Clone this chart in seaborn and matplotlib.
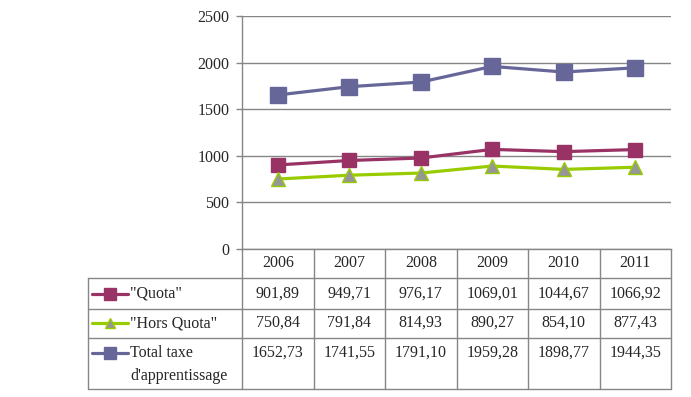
import matplotlib
matplotlib.use('Agg')
import matplotlib.pyplot as plt
import numpy as np
import pandas as pd
import seaborn as sns
from matplotlib.lines import Line2D

years = ['2006', '2007', '2008', '2009', '2010', '2011']
quota = [901.89, 949.71, 976.17, 1069.01, 1044.67, 1066.92]
hors_quota = [750.84, 791.84, 814.93, 890.27, 854.10, 877.43]
total = [1652.73, 1741.55, 1791.10, 1959.28, 1898.77, 1944.35]
series_names = ['"Quota"', '"Hors Quota"', 'Total taxe\nd\'apprentissage']

sns.set_theme(style='white')
plt.rcParams['font.family'] = ['Liberation Serif', 'DejaVu Serif']
plt.rcParams['font.size'] = 11.5

W, H = 691, 397
fig = plt.figure(figsize=(W / 100, H / 100), dpi=100)

# pixel box of the plot area
x0, x1, ytop, ybot = 242, 671, 16, 249
ax = fig.add_axes([x0 / W, 1 - ybot / H, (x1 - x0) / W, (ybot - ytop) / H])

df = pd.DataFrame({
    'pos': np.tile(np.arange(len(years)), 3),
    'value': quota + hors_quota + total,
    'series': np.repeat(series_names, len(years)),
})

styles = {
    series_names[0]: dict(color='#993366', marker='s', markersize=10, markerfacecolor='#993366',
                          markeredgecolor='#993366'),
    series_names[1]: dict(color='#99CC00', marker='^', markersize=9.5, markerfacecolor='#969696',
                          markeredgecolor='#99CC00'),
    series_names[2]: dict(color='#666699', marker='s', markersize=11.5, markerfacecolor='#666699',
                          markeredgecolor='#666699'),
}

for name in series_names:
    st = styles[name]
    sns.lineplot(data=df[df.series == name], x='pos', y='value', ax=ax,
                 color=st['color'], linewidth=2.3, marker=st['marker'],
                 markersize=st['markersize'], markerfacecolor=st['markerfacecolor'],
                 markeredgecolor=st['markeredgecolor'], markeredgewidth=1, zorder=3,
                 legend=False)

grid_c = '#868686'
ax.set_xlim(-0.5, len(years) - 0.5)
ax.set_ylim(0, 2500)
ax.set_yticks(np.arange(0, 2501, 500))
ax.set_xticks([])
ax.set_xlabel('')
ax.set_ylabel('')
ax.yaxis.grid(True, color=grid_c, linewidth=1)
ax.set_axisbelow(True)
for s in ['top', 'right']:
    ax.spines[s].set_visible(False)
for s in ['left', 'bottom']:
    ax.spines[s].set_color(grid_c)
    ax.spines[s].set_linewidth(1)
ax.tick_params(axis='y', left=True, length=4, width=1, color=grid_c, pad=5, labelsize=11.5)

# data table under the chart, drawn in pixel coordinates
tl, tb = 88, 389
tab = fig.add_axes([tl / W, 1 - tb / H, (x1 - tl) / W, (tb - ybot) / H])
tab.set_xlim(tl, x1)
tab.set_ylim(tb, ybot)
tab.axis('off')

col_w = (x1 - x0) / len(years)
col_edges = [x0 + i * col_w for i in range(len(years) + 1)]
row_edges = [278, 309, 338, tb]
lkw = dict(color=grid_c, linewidth=1, clip_on=False)

for y in row_edges:
    tab.plot([tl, x1], [y, y], **lkw)
tab.plot([tl, tl], [row_edges[0], tb], **lkw)
for x in col_edges:
    tab.plot([x, x], [ybot, tb], **lkw)

for i, yr in enumerate(years):
    tab.text(x0 + (i + 0.5) * col_w, 263, yr, ha='center', va='center')

rows = [quota, hors_quota, total]
row_text_y = [294, 323, 353]
for name, vals, ty in zip(series_names, rows, row_text_y):
    for i, v in enumerate(vals):
        tab.text(x0 + (i + 0.5) * col_w, ty, f'{v:.2f}'.replace('.', ','), ha='center', va='center')
    st = styles[name]
    tab.add_line(Line2D([92, 128], [ty, ty], color=st['color'], linewidth=2.3))
    tab.add_line(Line2D([110], [ty], marker=st['marker'], markersize=st['markersize'] * 0.8,
                        markerfacecolor=st['markerfacecolor'],
                        markeredgecolor=st['markeredgecolor'], color=st['color']))
    for k, part in enumerate(name.split('\n')):
        tab.text(130, ty + k * 23, part, ha='left', va='center')

fig.savefig('out.png', dpi=100)
